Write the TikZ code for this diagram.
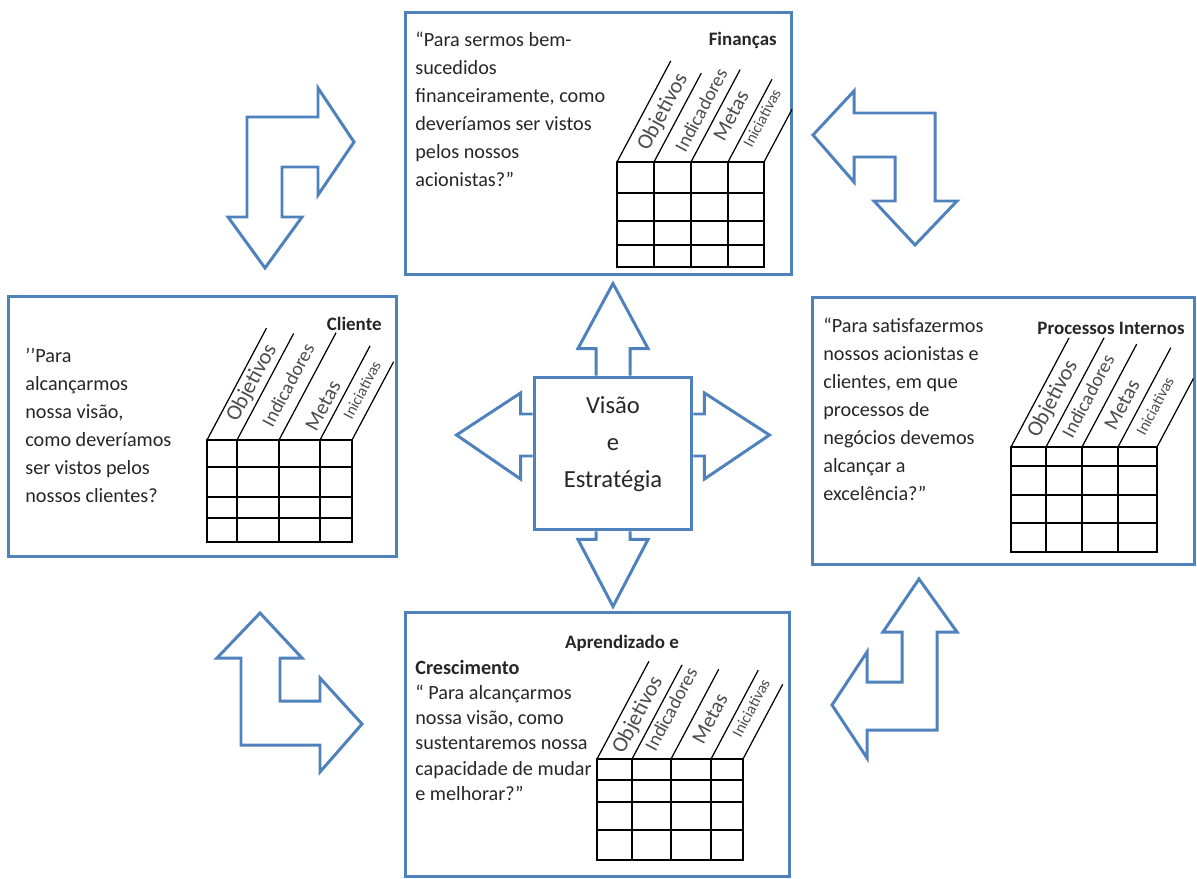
\documentclass[tikz,border=0pt]{standalone}
\usepackage{fontspec}
\setmainfont{Carlito}
\usetikzlibrary{calc}
\definecolor{bscblue}{RGB}{79,129,189}

% grid of one perspective: origin, columns (x/slant length), rows, width, height
\newcommand{\bscgrid}[5]{%
  \begin{scope}[shift={#1}]
    \foreach \c/\s in {#2} {
      \draw[gridline] (\c,0) -- (\c,#5);
      \draw[gridline] (\c,0) -- ++(-62:\s);
    }
    \foreach \r in {#3}
      \draw[gridline] (0,\r) -- (#4,\r);
  \end{scope}}

\begin{document}
\begin{tikzpicture}[
    x=0.02cm, y=-0.02cm,
    persp/.style={rectangle, draw=bscblue, line width=1.7pt, inner sep=0pt},
    blockarrow/.style={draw=bscblue, line width=1.7pt, line join=miter},
    gridline/.style={draw=black, line width=0.7pt, line cap=rect},
    question/.style={anchor=north west, align=left, inner sep=0pt, text=black!85, font=\fontsize{11.5}{15.9}\selectfont},
    persptitle/.style={inner sep=0pt, text=black!85, font=\bfseries\fontsize{10.8}{13}\selectfont},
    colhead/.style={inner sep=0pt, rotate=62, text=black!70},
    hobj/.style={colhead, font=\fontsize{12.5}{13}\selectfont},
    hind/.style={colhead, font=\fontsize{11}{12}\selectfont},
    hmet/.style={colhead, font=\fontsize{12}{13}\selectfont},
    hini/.style={colhead, font=\fontsize{9}{10}\selectfont}
]
\useasboundingbox (0,0) rectangle (1197,879);

% Perspective boxes
\node[persp, minimum width=7.74cm, minimum height=5.26cm] (fin) at (598.5,143.5) {};
\node[persp, minimum width=7.78cm, minimum height=5.22cm] (cli) at (202.5,426.5) {};
\node[persp, minimum width=7.66cm, minimum height=5.36cm] (proc) at (1003.5,431) {};
\node[persp, minimum width=7.70cm, minimum height=5.30cm] (apr) at (597.5,744.5) {};

% Vision and strategy
\node[persp, minimum width=3.16cm, minimum height=3.06cm] (vis) at (613,453.5) {};
\node[align=center, inner sep=0pt, text=black!85, font=\fontsize{14}{21}\selectfont] (vistxt) at ($(vis.center)+(0,-9)$) {Visão\\e\\Estratégia};

% Arrows out of the center
\draw[blockarrow] ($(vis.north)+(-17,0)$) -- ++(0,-27) -- ++(-18,0) -- ++(35,-65) -- ++(35,65) -- ++(-18,0) -- ++(0,27);
\draw[blockarrow] ($(vis.south)+(-17,0)$) -- ++(0,8) -- ++(-18,0) -- ++(35,67) -- ++(35,-67) -- ++(-18,0) -- ++(0,-8);
\draw[blockarrow] ($(vis.west)+(0,-39.5)$) -- ++(-12,0) -- ++(0,-21) -- ++(-64,42) -- ++(64,44) -- ++(0,-23) -- ++(12,0);
\draw[blockarrow] ($(vis.east)+(0,-39.5)$) -- ++(11,0) -- ++(0,-21) -- ++(65,42) -- ++(-65,44) -- ++(0,-23) -- ++(-11,0);

% Bent arrows between the perspectives
\draw[blockarrow] (354,142) -- (318,195) -- (318,167) -- (282,167) -- (282,217) -- (302,217) -- (265,268)
  -- (228,217) -- (247,217) -- (247,117) -- (318,117) -- (318,88) -- cycle;
\draw[blockarrow] (813,135) -- (854,91) -- (854,113) -- (935,113) -- (935,201) -- (957,201) -- (915,245)
  -- (874,201) -- (895,201) -- (895,157) -- (854,157) -- (854,182) -- cycle;
\draw[blockarrow] (260,613) -- (302,658) -- (280,658) -- (280,701) -- (320,701) -- (320,678) -- (362,724)
  -- (320,772) -- (320,745) -- (241,745) -- (241,658) -- (217,658) -- cycle;
\draw[blockarrow] (919,579) -- (957,632) -- (937,632) -- (937,730) -- (867,730) -- (867,758) -- (832,705)
  -- (867,652) -- (867,682) -- (902,682) -- (902,632) -- (883,632) -- cycle;

% Finanças
\node[persptitle, anchor=east] (fintitle) at (777,40) {Finanças};
\node[question] (finq) at (415,32) {“Para sermos bem-\\sucedidos\\financeiramente, como\\deveríamos ser vistos\\pelos nossos\\acionistas?”};
\bscgrid{(617,162)}{0/114, 37/100, 74/104, 111/93, 147/59}{0, 31, 59, 83, 105}{147}{105}
\node[hobj] (finobj) at (663,112) {Objetivos};
\node[hind] (finind) at (701,110) {Indicadores};
\node[hmet] (finmet) at (731,116) {Metas};
\node[hini] (finini) at (762,118) {Iniciativas};

% Cliente
\node[persptitle, anchor=east] (clititle) at (382,324) {Cliente};
\node[question] (cliq) at (25,348) {’’Para\\alcançarmos\\nossa visão,\\como deveríamos\\ser vistos pelos\\nossos clientes?};
\bscgrid{(207,440)}{0/126, 30/120, 72/121, 113/106, 145/88}{0, 27, 57, 78, 102}{145}{102}
\node[hobj] (cliobj) at (252,383) {Objetivos};
\node[hind] (cliind) at (288,385) {Indicadores};
\node[hmet] (climet) at (323,406) {Metas};
\node[hini] (cliini) at (362,390) {Iniciativas};

% Processos Internos
\node[persptitle, anchor=east] (proctitle) at (1185,328) {Processos Internos};
\node[question] (procq) at (823,318) {“Para satisfazermos\\nossos acionistas e\\clientes, em que\\processos de\\negócios devemos\\alcançar a\\excelência?”};
\bscgrid{(1011,447)}{0/123, 35/123, 71/116, 107/112, 146/77}{0, 19, 48, 76, 105}{146}{105}
\node[hobj] (procobj) at (1053,399) {Objetivos};
\node[hind] (procind) at (1088,396) {Indicadores};
\node[hmet] (procmet) at (1122,405) {Metas};
\node[hini] (procini) at (1155,406) {Iniciativas};

% Aprendizado e Crescimento
\node[persptitle] (aprtitle) at (622,643) {Aprendizado e};
\node[question, font=\fontsize{11.5}{14.3}\selectfont] (aprq) at (415,660) {\textbf{Crescimento}\\“ Para alcançarmos\\nossa visão, como\\sustentaremos nossa\\capacidade de mudar\\e melhorar?”};
\bscgrid{(597,759)}{0/110, 35/106, 74/101, 114/100, 146/84}{0, 21, 43, 71, 101}{146}{101}
\node[hobj] (aprobj) at (638,715) {Objetivos};
\node[hind] (aprind) at (671,709) {Indicadores};
\node[hmet] (aprmet) at (710,719) {Metas};
\node[hini] (aprini) at (751,708) {Iniciativas};

\end{tikzpicture}
\end{document}
